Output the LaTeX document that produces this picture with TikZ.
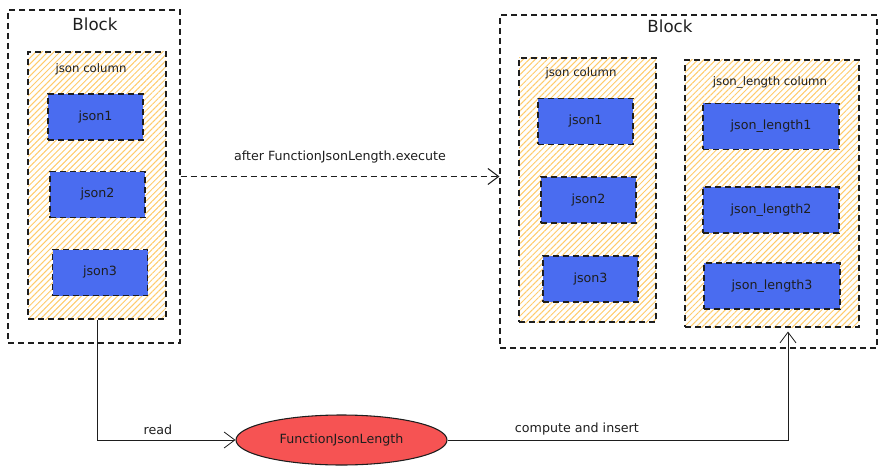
\documentclass[tikz,border=0pt]{standalone}
\usepackage{fontspec}
\setmainfont{DejaVu Sans}
\usepackage{tikz}
\usetikzlibrary{arrows.meta,calc,patterns.meta,shapes.geometric}
\definecolor{cellblue}{HTML}{4A6CF0}
\definecolor{hatchorange}{HTML}{FFCB6B}
\definecolor{fnred}{HTML}{F65353}
\definecolor{inkgray}{HTML}{1E1E1E}

\begin{document}
\begin{tikzpicture}[x=0.75pt,y=-0.75pt,>={Straight Barb[length=8pt,width=12pt]},
  block/.style={draw=inkgray,line width=0.8pt,dash pattern=on 4.5pt off 3pt,rectangle,inner sep=0pt},
  colbox/.style={block,pattern={Lines[angle=45,distance=3.2pt,line width=0.75pt]},pattern color=hatchorange},
  cell/.style={block,fill=cellblue,minimum width=71.25pt,minimum height=34.5pt,font=\fontsize{9.5}{11}\selectfont,text=inkgray},
  lencell/.style={cell,minimum width=102pt},
  title/.style={font=\fontsize{12.5}{14}\selectfont,text=inkgray},
  coltitle/.style={font=\fontsize{8.8}{10}\selectfont,text=inkgray},
  edgelabel/.style={font=\fontsize{9.5}{11}\selectfont,text=inkgray}]
\useasboundingbox (0,0) rectangle (884,474);
\node[block,minimum width=129pt,minimum height=249.75pt] (lblock) at (94,176.5) {};
\node[title] (ltitle) at (95,24) {Block};
\node[colbox,minimum width=103.5pt,minimum height=200.25pt] (lcol) at (97,185.5) {};
\node[coltitle] (lcoltitle) at (91,69) {json column};
\node[cell] (ljson1) at (95.5,117) {json1};
\node[cell] (ljson2) at (97.5,194.5) {json2};
\node[cell] (ljson3) at (100,272.5) {json3};

\node[block,minimum width=282.75pt,minimum height=249.75pt] (rblock) at (688.5,181.5) {};
\node[title] (rtitle) at (670,26) {Block};
\node[colbox,minimum width=102.75pt,minimum height=198pt] (rcol) at (587.5,190) {};
\node[coltitle] (rcoltitle) at (581,73) {json column};
\node[cell] (rjson1) at (585.5,121.5) {json1};
\node[cell] (rjson2) at (588.5,200) {json2};
\node[cell] (rjson3) at (590.5,279) {json3};
\node[colbox,minimum width=130.5pt,minimum height=200.25pt] (jlcol) at (772,193.5) {};
\node[coltitle] (jlcoltitle) at (770,82) {json\_length column};
\node[lencell] (jlen1) at (771,126.5) {json\_length1};
\node[lencell] (jlen2) at (771,210) {json\_length2};
\node[lencell] (jlen3) at (772,286) {json\_length3};

\node[ellipse,draw=inkgray,line width=0.8pt,fill=fnred,minimum width=158.25pt,minimum height=37.5pt,font=\fontsize{9.5}{11}\selectfont,text=inkgray] (fn) at (341.5,440) {FunctionJsonLength};

\draw[->,inkgray,line width=0.8pt,dash pattern=on 4.5pt off 3pt] (lblock.east) -- (lblock.east -| rblock.west)
  node[midway,above=6pt,edgelabel]{after FunctionJsonLength.execute};
\draw[->,inkgray,line width=0.6pt] (lcol.south) |- (fn.west) node[pos=0.72,above,edgelabel]{read};
\draw[->,inkgray,line width=0.6pt] (fn.east) -| ($(jlcol.south)+(16,4)$) node[pos=0.19,above,edgelabel]{compute and insert};
\end{tikzpicture}
\end{document}
